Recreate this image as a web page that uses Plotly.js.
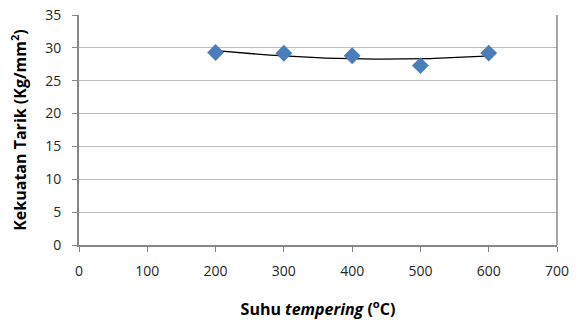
<!DOCTYPE html>
<html><head><meta charset="utf-8">
<script src="https://cdn.plot.ly/plotly-3.0.1.min.js"></script>
<style>body{margin:0;background:#fff}#c{width:579px;height:320px}</style>
</head><body><div id="c"></div>
<script>
var suhu = [200, 300, 400, 500, 600];
var kekuatan = [29.3, 29.17, 28.8, 27.3, 29.2];
var xTicks = [0, 100, 200, 300, 400, 500, 600, 700];
var yTicks = [0, 5, 10, 15, 20, 25, 30, 35];

// Polynomial (order 2) trendline by least squares, as in the spreadsheet
function polyFit2(xs, ys) {
  var n = xs.length, S = [0,0,0,0,0], T = [0,0,0];
  for (var i = 0; i < n; i++) {
    var p = 1;
    for (var k = 0; k < 5; k++) { S[k] += p; if (k < 3) T[k] += p * ys[i]; p *= xs[i]; }
  }
  var M = [[S[0],S[1],S[2],T[0]],[S[1],S[2],S[3],T[1]],[S[2],S[3],S[4],T[2]]];
  for (var c = 0; c < 3; c++) {
    for (var r = c + 1; r < 3; r++) {
      var f = M[r][c] / M[c][c];
      for (var j = c; j < 4; j++) M[r][j] -= f * M[c][j];
    }
  }
  var co = [0,0,0];
  for (var r2 = 2; r2 >= 0; r2--) {
    var s = M[r2][3];
    for (var j2 = r2 + 1; j2 < 3; j2++) s -= M[r2][j2] * co[j2];
    co[r2] = s / M[r2][r2];
  }
  return co;
}
var co = polyFit2(suhu, kekuatan);
var tx = [], ty = [];
for (var x = suhu[0]; x <= suhu[suhu.length-1]; x += 5) {
  tx.push(x); ty.push(co[0] + co[1]*x + co[2]*x*x);
}

var font = "'Open Sans', Lato, sans-serif";
var data = [
  {x: tx, y: ty, mode: 'lines', line: {color: '#000000', width: 1.3}, hoverinfo: 'skip'},
  {x: suhu, y: kekuatan, mode: 'markers',
   marker: {symbol: 'diamond', size: 13, color: '#4A7EBB', line: {width: 0}}}
];
var layout = {
  width: 579, height: 320,
  margin: {l: 79, r: 22, t: 15, b: 75},
  showlegend: false,
  paper_bgcolor: '#ffffff', plot_bgcolor: '#ffffff',
  font: {family: font, size: 14, color: '#262626'},
  xaxis: {
    range: [0, 700], tickvals: xTicks, ticktext: xTicks.map(String),
    showgrid: false, zeroline: false,
    showline: true, linecolor: '#868686', linewidth: 2,
    ticks: 'outside', ticklen: 5, tickcolor: '#868686', tickwidth: 1,
    ticklabelstandoff: 7,
    tickfont: {family: font, size: 14, color: '#262626'},
    title: {text: '<b>Suhu <i>tempering</i> (<sup>o</sup>C)</b>', standoff: 25,
            font: {family: font, size: 16, color: '#000000'}}
  },
  yaxis: {
    range: [0, 35], tickvals: yTicks, ticktext: yTicks.map(String),
    showgrid: true, gridcolor: '#BFBFBF', gridwidth: 1,
    zeroline: false,
    showline: true, linecolor: '#868686', linewidth: 2,
    ticks: 'outside', ticklen: 5, tickcolor: '#868686', tickwidth: 1,
    ticklabelstandoff: 8,
    tickfont: {family: font, size: 14, color: '#262626'},
    title: {text: '<b>Kekuatan Tarik (Kg/mm<sup>2</sup>)</b>', standoff: 15,
            font: {family: font, size: 16, color: '#000000'}}
  },
  shapes: [
    {type: 'line', xref: 'x domain', yref: 'y domain', x0: 1, x1: 1, y0: 0, y1: 1,
     line: {color: '#6E6E6E', width: 1.2}}
  ]
};
Plotly.newPlot('c', data, layout, {staticPlot: true, displayModeBar: false});
</script></body></html>
